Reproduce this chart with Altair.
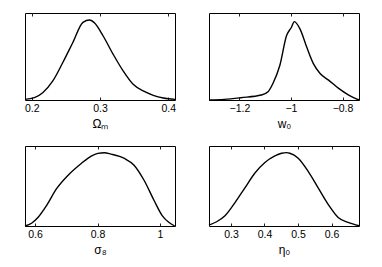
import altair as alt
import pandas as pd

# Panel 1: Omega_m
om_x = [0.190, 0.2037, 0.216, 0.2308, 0.2455, 0.2602, 0.275, 0.2848, 0.2921, 0.3044,
        0.3192, 0.3339, 0.3486, 0.3634, 0.3781, 0.3928, 0.41]
om_y = [0.008, 0.029, 0.092, 0.239, 0.470, 0.721, 0.973, 1.002, 0.964, 0.805,
        0.574, 0.365, 0.197, 0.113, 0.059, 0.025, 0.008]
# Panel 2: w_0
w_x = [-1.318, -1.259, -1.194, -1.115, -1.089, -1.070, -1.043, -1.017, -0.998, -0.987,
       -0.965, -0.939, -0.913, -0.887, -0.854, -0.815, -0.776, -0.736]
w_y = [0.0, 0.008, 0.029, 0.062, 0.104, 0.207, 0.435, 0.808, 0.912, 0.982,
       0.891, 0.663, 0.456, 0.332, 0.249, 0.145, 0.062, 0.0]
# Panel 3: sigma_8
s_x = [0.568, 0.589, 0.610, 0.637, 0.669, 0.706, 0.748, 0.780, 0.801, 0.822,
       0.843, 0.886, 0.917, 0.949, 0.981, 1.007, 1.028, 1.047]
s_y = [0.0, 0.037, 0.119, 0.279, 0.508, 0.692, 0.852, 0.953, 0.989, 0.998,
       0.980, 0.921, 0.829, 0.623, 0.348, 0.142, 0.050, 0.0]
# Panel 4: eta_0
e_x = [0.2345, 0.2573, 0.2822, 0.312, 0.3417, 0.3715, 0.4013, 0.4311, 0.451, 0.4659,
       0.4758, 0.5006, 0.5304, 0.5602, 0.59, 0.6198, 0.6496, 0.6823]
e_y = [0.013, 0.058, 0.139, 0.318, 0.520, 0.722, 0.866, 0.955, 0.991, 1.000,
       0.991, 0.924, 0.745, 0.520, 0.296, 0.117, 0.049, 0.004]

domains = [[0.19, 0.41], [-1.318, -0.736], [0.568, 1.048], [0.2345, 0.682]]
ticks = [[0.2, 0.3, 0.4], [-1.2, -1.0, -0.8], [0.6, 0.8, 1.0], [0.3, 0.4, 0.5, 0.6]]
titles = ["Ωₘ", "w₀", "σ₈", "η₀"]
Y_MAX = 1.09


def panel(xs, ys, dom, tv, title, h):
    df = pd.DataFrame({"x": xs, "y": ys})
    sc = alt.Scale(domain=dom, nice=False, zero=False)
    ysc = alt.Scale(domain=[0, Y_MAX], nice=False, zero=True)
    yenc = alt.Y("y:Q", scale=ysc, axis=None)
    base = alt.Chart(df)
    line = base.mark_line(color="black", strokeWidth=1.4, interpolate="monotone").encode(
        x=alt.X("x:Q", scale=sc, axis=alt.Axis(
            values=tv, format="~g", title=title, tickSize=0, domain=False, grid=False,
            labelPadding=3, titlePadding=5, labelFontSize=10.5, titleFontSize=12,
            labelColor="black", titleColor="black", titleFontWeight="normal",
            labelFont="Liberation Sans", titleFont="Liberation Sans")),
        y=yenc)
    bot = base.mark_line(opacity=0).encode(
        x=alt.X("x:Q", scale=sc, axis=alt.Axis(
            orient="top", offset=-h, values=tv, labels=False, title=None,
            tickSize=3, tickWidth=1, tickColor="#222222", domain=False, grid=False)),
        y=yenc)
    top = base.mark_line(opacity=0).encode(
        x=alt.X("x:Q", scale=sc, axis=alt.Axis(
            orient="bottom", offset=-h, values=tv, labels=False, title=None,
            tickSize=3, tickWidth=1, tickColor="#222222", domain=False, grid=False)),
        y=yenc)
    return alt.layer(line, bot, top).resolve_axis(x="independent").properties(width=150, height=h)


p1 = panel(om_x, om_y, domains[0], ticks[0], titles[0], 87)
p2 = panel(w_x, w_y, domains[1], ticks[1], titles[1], 87)
p3 = panel(s_x, s_y, domains[2], ticks[2], titles[2], 80)
p4 = panel(e_x, e_y, domains[3], ticks[3], titles[3], 80)

chart = alt.concat(p1, p2, p3, p4, columns=2, spacing={"row": 46, "column": 34},
                   bounds="flush").properties(
    padding={"left": 13, "top": 4, "right": 5, "bottom": 5},
    background="white",
).configure_view(stroke="black", strokeWidth=1)

chart.save("out.html", embed_options={"renderer": "svg", "actions": False})
